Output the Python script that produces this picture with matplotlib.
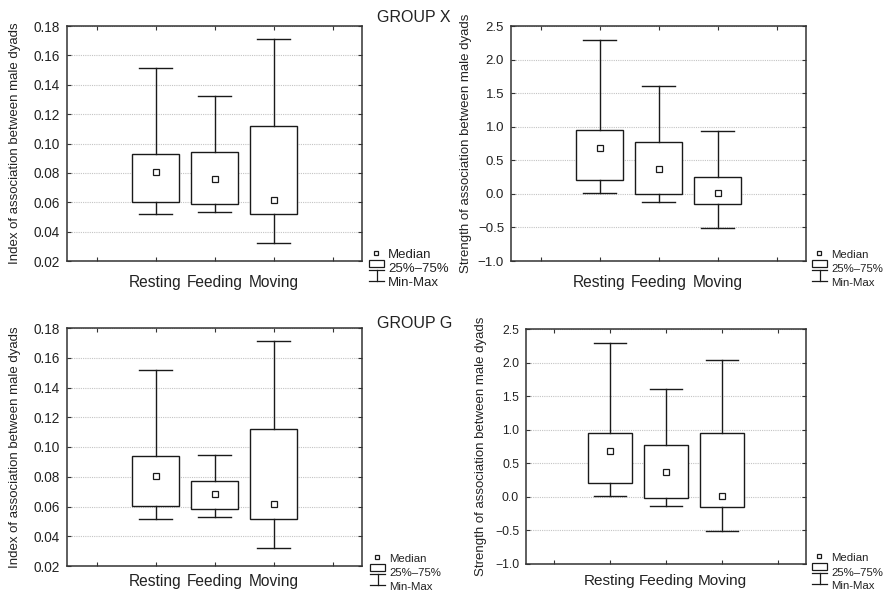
import matplotlib
matplotlib.use("Agg")
import matplotlib.pyplot as plt
from matplotlib.patches import Rectangle
from matplotlib.ticker import FuncFormatter
from matplotlib.transforms import ScaledTranslation

plt.rcParams['font.family'] = ['Liberation Sans', 'DejaVu Sans']

# カテゴリ
categories = ['Resting', 'Feeding', 'Moving']

# GROUP X, index of association
x_idx_min = [0.0518, 0.0532, 0.0325]
x_idx_q1 = [0.0602, 0.0586, 0.0518]
x_idx_med = [0.0808, 0.0756, 0.0615]
x_idx_q3 = [0.0931, 0.0944, 0.1119]
x_idx_max = [0.1516, 0.1323, 0.1714]

# GROUP X, strength of association
x_str_min = [0.013, -0.126, -0.513]
x_str_q1 = [0.211, -0.007, -0.156]
x_str_med = [0.688, 0.370, 0.018]
x_str_q3 = [0.956, 0.772, 0.256]
x_str_max = [2.296, 1.611, 0.941]

# GROUP G, index of association
g_idx_min = [0.0514, 0.0532, 0.0323]
g_idx_q1 = [0.0601, 0.0583, 0.0518]
g_idx_med = [0.0807, 0.0684, 0.0617]
g_idx_q3 = [0.0937, 0.0774, 0.1119]
g_idx_max = [0.1516, 0.0946, 0.1713]

# GROUP G, strength of association
g_str_min = [0.007, -0.132, -0.504]
g_str_q1 = [0.211, -0.012, -0.157]
g_str_med = [0.688, 0.370, 0.018]
g_str_q3 = [0.956, 0.767, 0.945]
g_str_max = [2.296, 1.611, 2.043]

idx_label = 'Index of association between male dyads'
str_label = 'Strength of association between male dyads'

W, H = 888, 593
fig = plt.figure(figsize=(W / 100, H / 100), dpi=100)


def px_rect(l, t, r, b):
    return [l / W, 1 - b / H, (r - l) / W, (b - t) / H]


def make_fmt(nd):
    return FuncFormatter(lambda v, p: f'{v:.{nd}f}'.replace('-', '\u2212'))


def panel(rect, mins, q1s, meds, q3s, maxs, ylim, step, nd, ylabel, label_x,
          tick_fs, xlab_fs, xpad=10, shifts=None):
    ax = fig.add_axes(px_rect(*rect))
    stats = []
    for lo, a, m, b, hi in zip(mins, q1s, meds, q3s, maxs):
        stats.append(dict(whislo=lo, q1=a, med=m, mean=m, q3=b, whishi=hi))
    ax.bxp(stats, positions=[1, 2, 3], widths=0.8, capwidths=0.56,
           patch_artist=True, showfliers=False, showmeans=True,
           boxprops=dict(facecolor='white', edgecolor='#1a1a1a', linewidth=1.0),
           whiskerprops=dict(color='#1a1a1a', linewidth=1.0),
           capprops=dict(color='#1a1a1a', linewidth=1.0),
           medianprops=dict(linewidth=0),
           meanprops=dict(marker='s', markersize=4, markerfacecolor='white',
                          markeredgecolor='#1a1a1a', markeredgewidth=0.9))
    ax.set_xlim(-0.5, 4.5)
    ax.set_ylim(*ylim)
    ax.set_xticks([0, 1, 2, 3, 4])
    ax.set_xticklabels([''] + categories + [''], fontsize=xlab_fs, color='#222222')
    if shifts:
        for lab, dx in zip(ax.get_xticklabels()[1:4], shifts):
            lab.set_transform(lab.get_transform() +
                              ScaledTranslation(dx / 100, 0, fig.dpi_scale_trans))
    n = int(round((ylim[1] - ylim[0]) / step))
    ax.set_yticks([ylim[0] + i * step for i in range(n + 1)])
    ax.yaxis.set_major_formatter(make_fmt(nd))
    ax.tick_params(axis='y', labelsize=tick_fs, labelcolor='#222222', pad=5)
    ax.tick_params(axis='x', pad=xpad)
    ax.tick_params(direction='in', length=3, width=0.8, color='#333333',
                   top=True, right=True)
    ax.yaxis.grid(True, linestyle=(0, (1, 1)), color='#c4c4c4', linewidth=0.8)
    ax.set_axisbelow(True)
    for s in ax.spines.values():
        s.set_color('#333333')
        s.set_linewidth(1.1)
    ax.set_ylabel(ylabel, fontsize=9.5, color='#222222')
    ax.yaxis.label.set_verticalalignment('center')
    l, t, r, b = rect
    ax.yaxis.set_label_coords((label_x - l) / (r - l), 0.5)
    return ax


panel((67, 26, 362, 261), x_idx_min, x_idx_q1, x_idx_med, x_idx_q3, x_idx_max,
      (0.02, 0.18), 0.02, 2, idx_label, 15, 9.8, 11.2)
panel((511, 26, 806, 261), x_str_min, x_str_q1, x_str_med, x_str_q3, x_str_max,
      (-1.0, 2.5), 0.5, 1, str_label, 466, 9.5, 11.2)
panel((67, 328, 362, 566), g_idx_min, g_idx_q1, g_idx_med, g_idx_q3, g_idx_max,
      (0.02, 0.18), 0.02, 2, idx_label, 15, 9.8, 11.2, xpad=6)
panel((526, 329, 806, 564), g_str_min, g_str_q1, g_str_med, g_str_q3, g_str_max,
      (-1.0, 2.5), 0.5, 1, str_label, 481, 8.8, 11.0, xpad=7,
      shifts=[-14, -9, -4])

fig.text(377 / W, 1 - 18 / H, 'GROUP X', fontsize=11.5, color='#222222',
         ha='left', va='center')
fig.text(377 / W, 1 - 323 / H, 'GROUP G', fontsize=11.5, color='#222222',
         ha='left', va='center')

# 凡例 (Median / 25%-75% / Min-Max) をピクセル座標で描く
ov = fig.add_axes([0, 0, 1, 1])
ov.set_xlim(0, W)
ov.set_ylim(H, 0)
ov.axis('off')


def key(ox, oy, fs):
    c = '#1a1a1a'
    ov.plot([ox], [oy], marker='s', markersize=3.5, mfc='white', mec=c, mew=0.9)
    ov.add_patch(Rectangle((ox - 7, oy + 7), 15, 7, fill=False, ec=c, lw=0.9))
    ov.plot([ox - 7, ox + 8], [oy + 17, oy + 17], color=c, lw=0.9)
    ov.plot([ox + 0.5, ox + 0.5], [oy + 17, oy + 28], color=c, lw=0.9)
    ov.plot([ox - 7, ox + 8], [oy + 28, oy + 28], color=c, lw=0.9)
    for dy, s in zip([2, 16.5, 30], ['Median', '25%\u201375%', 'Min-Max']):
        ov.text(ox + 12, oy + dy, s, fontsize=fs, color='#222222',
                ha='left', va='center')


key(376, 253, 9.5)
key(819, 253, 8.2)
key(377, 557, 8.2)
key(819, 556, 8.2)

print("done :)")
fig.savefig('out.png', dpi=100)
